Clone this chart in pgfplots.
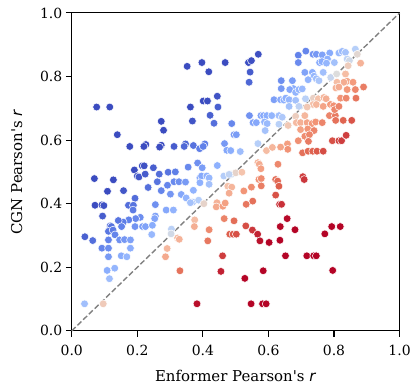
\documentclass[border=0pt]{standalone}
\usepackage{fontspec}
\setmainfont{DejaVu Serif}
\setsansfont{DejaVu Sans}
\usepackage{pgfplots}
\usepackage{pgfplotstable}
\pgfplotsset{compat=1.18}
\usetikzlibrary{calc}
\pgfplotstableread{
x y
0.076 0.704
0.116 0.704
0.139 0.617
0.177 0.580
0.226 0.586
0.220 0.580
0.273 0.659
0.280 0.631
0.273 0.584
0.268 0.578
0.312 0.580
0.352 0.832
0.397 0.844
0.418 0.815
0.468 0.844
0.362 0.704
0.368 0.660
0.401 0.723
0.414 0.723
0.444 0.738
0.446 0.704
0.422 0.678
0.434 0.653
0.347 0.588
0.343 0.580
0.371 0.583
0.390 0.573
0.406 0.588
0.401 0.580
0.488 0.652
0.495 0.617
0.502 0.617
0.466 0.589
0.473 0.568
0.485 0.567
0.514 0.564
0.355 0.515
0.384 0.528
0.398 0.513
0.444 0.520
0.191 0.506
0.215 0.519
0.221 0.519
0.249 0.513
0.294 0.499
0.316 0.500
0.200 0.487
0.205 0.484
0.224 0.493
0.267 0.493
0.261 0.469
0.312 0.469
0.327 0.469
0.292 0.458
0.273 0.441
0.301 0.430
0.334 0.429
0.069 0.479
0.127 0.475
0.109 0.439
0.158 0.441
0.233 0.451
0.193 0.417
0.071 0.395
0.092 0.396
0.098 0.394
0.173 0.395
0.188 0.395
0.187 0.380
0.094 0.361
0.255 0.397
0.255 0.361
0.253 0.353
0.288 0.380
0.310 0.380
0.209 0.357
0.195 0.353
0.174 0.349
0.157 0.342
0.142 0.347
0.117 0.330
0.121 0.328
0.152 0.328
0.193 0.328
0.216 0.328
0.225 0.328
0.246 0.332
0.304 0.320
0.040 0.296
0.064 0.284
0.112 0.313
0.126 0.317
0.244 0.303
0.132 0.302
0.112 0.286
0.146 0.286
0.161 0.287
0.179 0.286
0.092 0.260
0.112 0.260
0.179 0.260
0.112 0.233
0.151 0.236
0.168 0.233
0.108 0.190
0.131 0.197
0.115 0.164
0.039 0.085
0.096 0.085
0.303 0.305
0.323 0.292
0.328 0.288
0.291 0.259
0.286 0.233
0.330 0.189
0.382 0.085
0.375 0.349
0.374 0.328
0.419 0.318
0.415 0.283
0.465 0.353
0.495 0.346
0.482 0.304
0.492 0.304
0.502 0.304
0.460 0.236
0.455 0.187
0.531 0.330
0.551 0.317
0.567 0.304
0.574 0.283
0.602 0.278
0.635 0.285
0.636 0.328
0.657 0.353
0.652 0.236
0.528 0.165
0.584 0.189
0.547 0.085
0.582 0.085
0.593 0.085
0.681 0.318
0.772 0.305
0.793 0.328
0.819 0.328
0.717 0.236
0.738 0.236
0.746 0.236
0.796 0.190
0.705 0.485
0.709 0.476
0.391 0.481
0.396 0.487
0.412 0.487
0.419 0.481
0.464 0.487
0.486 0.492
0.500 0.497
0.480 0.492
0.519 0.499
0.568 0.529
0.572 0.524
0.577 0.510
0.629 0.524
0.571 0.476
0.578 0.479
0.622 0.476
0.628 0.471
0.632 0.455
0.578 0.456
0.347 0.468
0.391 0.466
0.419 0.461
0.371 0.442
0.349 0.418
0.369 0.405
0.387 0.411
0.362 0.403
0.403 0.400
0.476 0.455
0.488 0.452
0.480 0.433
0.525 0.440
0.548 0.452
0.552 0.408
0.532 0.398
0.622 0.427
0.634 0.398
0.640 0.398
0.443 0.403
0.441 0.390
0.461 0.392
0.468 0.402
0.542 0.677
0.577 0.677
0.585 0.677
0.595 0.677
0.610 0.677
0.632 0.677
0.642 0.672
0.553 0.655
0.563 0.655
0.588 0.657
0.596 0.652
0.590 0.630
0.632 0.650
0.660 0.646
0.683 0.675
0.568 0.589
0.594 0.567
0.612 0.577
0.637 0.578
0.658 0.588
0.659 0.571
0.685 0.655
0.698 0.655
0.718 0.655
0.733 0.652
0.744 0.657
0.764 0.655
0.711 0.677
0.786 0.677
0.804 0.677
0.805 0.662
0.828 0.662
0.854 0.662
0.698 0.633
0.720 0.635
0.739 0.630
0.711 0.612
0.725 0.617
0.691 0.598
0.722 0.596
0.795 0.598
0.815 0.598
0.823 0.598
0.837 0.615
0.704 0.560
0.721 0.565
0.735 0.565
0.748 0.565
0.767 0.565
0.569 0.870
0.539 0.844
0.548 0.850
0.544 0.814
0.541 0.782
0.691 0.867
0.691 0.844
0.714 0.880
0.736 0.870
0.746 0.870
0.764 0.868
0.787 0.874
0.780 0.855
0.756 0.844
0.763 0.847
0.777 0.842
0.801 0.844
0.815 0.874
0.825 0.879
0.835 0.876
0.865 0.886
0.871 0.870
0.840 0.855
0.847 0.850
0.843 0.834
0.881 0.842
0.639 0.787
0.639 0.762
0.673 0.787
0.676 0.762
0.711 0.813
0.734 0.813
0.739 0.801
0.721 0.790
0.767 0.813
0.746 0.793
0.754 0.787
0.790 0.797
0.808 0.808
0.835 0.808
0.840 0.785
0.830 0.782
0.809 0.782
0.858 0.782
0.890 0.767
0.806 0.764
0.815 0.767
0.840 0.759
0.865 0.759
0.820 0.732
0.837 0.732
0.867 0.732
0.617 0.727
0.637 0.727
0.647 0.726
0.653 0.732
0.663 0.727
0.665 0.759
0.683 0.750
0.693 0.759
0.703 0.761
0.683 0.725
0.713 0.730
0.737 0.732
0.752 0.730
0.769 0.734
0.776 0.730
0.736 0.712
0.746 0.712
0.767 0.706
0.789 0.712
0.799 0.708
0.802 0.696
0.815 0.706
0.663 0.706
0.693 0.706
0.718 0.704
}\pts
\begin{document}
\begin{tikzpicture}
\begin{axis}[
  name=ax,
  scale only axis, width=329pt, height=319pt,
  xmin=0, xmax=1, ymin=0, ymax=1,
  xtick={0,0.2,0.4,0.6,0.8,1}, ytick={0,0.2,0.4,0.6,0.8,1},
  /pgf/number format/.cd, fixed, fixed zerofill, precision=1, assume math mode=true, /pgfplots/.cd,
  tick align=outside, tick pos=left, major tick length=6pt,
  every tick/.style={black, line width=1.1pt},
  axis line style={line width=1.1pt},
  ticklabel style={font=\fontsize{14}{14}\selectfont},
  xticklabel style={yshift=-5pt},
  label style={font=\fontsize{15}{15}\selectfont},
  xlabel style={yshift=-7pt},
  ylabel style={yshift=11pt},
  xlabel={Enformer Pearson\textquotesingle s \textsf{\textit{r}}},
  ylabel={CGN Pearson\textquotesingle s \textsf{\textit{r}}},
  colormap={coolwarm}{rgb255=(59,76,192) rgb255=(98,130,234) rgb255=(141,176,254) rgb255=(184,208,249) rgb255=(221,221,221) rgb255=(245,196,173) rgb255=(244,154,123) rgb255=(222,96,77) rgb255=(180,4,38)},
  point meta min=-0.56, point meta max=0.56,
  clip=false,
]
\addplot[scatter, only marks, mark=*, mark size=3.9pt,
  scatter/use mapped color={draw=white, fill=mapped color, line width=0.5pt},
  point meta={(\thisrow{x}-\thisrow{y})/sqrt(abs(\thisrow{x}-\thisrow{y})+0.000001)}]
  table[x=x, y=y] {\pts};
\addplot[gray, dashed, line width=1.4pt, dash pattern=on 5.5pt off 2.5pt, forget plot] coordinates {(0,0) (1,1)};
\end{axis}
\path ($(ax.south west)+(-72pt,-55pt)$) rectangle ($(ax.north east)+(13pt,13pt)$);
\end{tikzpicture}
\end{document}
